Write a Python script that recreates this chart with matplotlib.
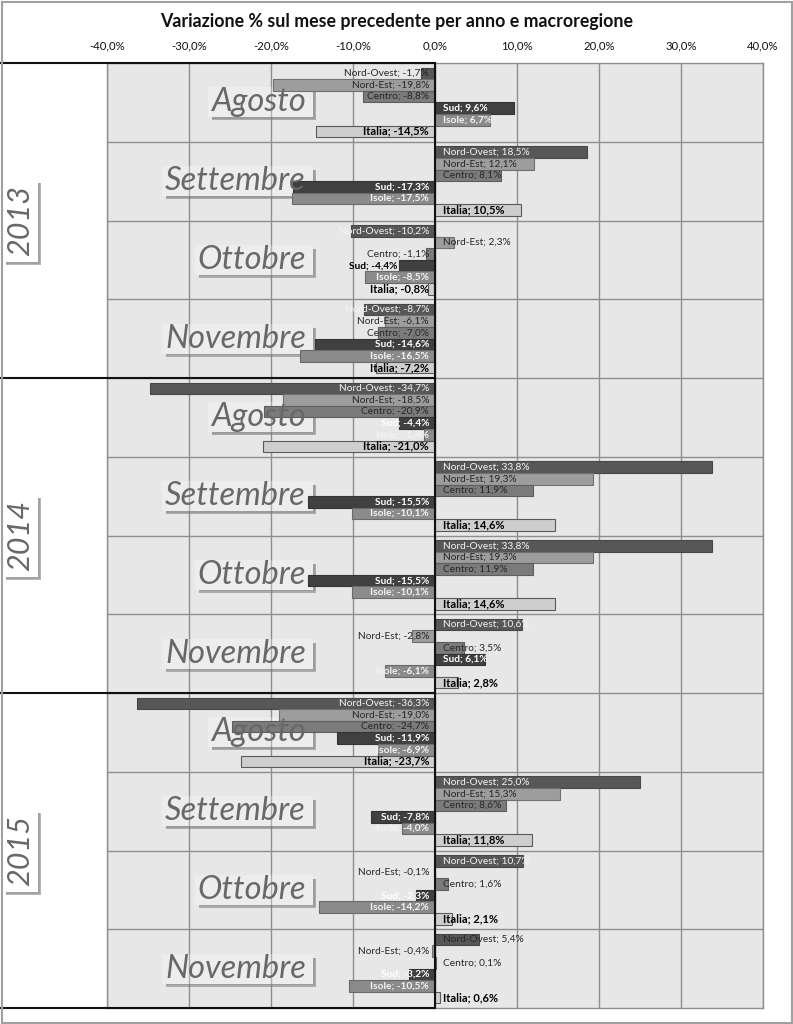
import matplotlib
matplotlib.use('Agg')
import matplotlib.pyplot as plt
from matplotlib.patches import Rectangle
from matplotlib.transforms import blended_transform_factory
from matplotlib.lines import Line2D

# ---------------- data ----------------
years = ['2013', '2014', '2015']
months = ['Agosto', 'Settembre', 'Ottobre', 'Novembre']
series_names = ['Nord-Ovest', 'Nord-Est', 'Centro', 'Sud', 'Isole', 'Italia']
nord_ovest = [-1.7, 18.5, -10.2, -8.7, -34.7, 33.8, 33.8, 10.6, -36.3, 25.0, 10.7, 5.4]
nord_est = [-19.8, 12.1, 2.3, -6.1, -18.5, 19.3, 19.3, -2.8, -19.0, 15.3, -0.1, -0.4]
centro = [-8.8, 8.1, -1.1, -7.0, -20.9, 11.9, 11.9, 3.5, -24.7, 8.6, 1.6, 0.1]
sud = [9.6, -17.3, -4.4, -14.6, -4.4, -15.5, -15.5, 6.1, -11.9, -7.8, -2.3, -3.2]
isole = [6.7, -17.5, -8.5, -16.5, -1.4, -10.1, -10.1, -6.1, -6.9, -4.0, -14.2, -10.5]
italia = [-14.5, 10.5, -0.8, -7.2, -21.0, 14.6, 14.6, 2.8, -23.7, 11.8, 2.1, 0.6]
xticks = [-40, -30, -20, -10, 0, 10, 20, 30, 40]
title = 'Variazione % sul mese precedente per anno e macroregione'

series_values = [nord_ovest, nord_est, centro, sud, isole, italia]

# ---------------- style ----------------
FONT = 'Lato'
plt.rcParams['font.family'] = [FONT, 'DejaVu Sans']
bar_face = ['#575757', '#9d9d9d', '#7b7b7b', '#404040', '#8b8b8b', '#cecece']
bar_edge = ['#484848', '#707070', '#5e5e5e', '#333333', '#6a6a6a', '#5a5a5a']
lab_color = ['#f4f4f4', '#262626', '#262626', '#ffffff', '#f4f4f4', '#000000']
lab_weight = ['normal', 'normal', 'normal', 'bold', 'bold', 'bold']
lab_size = [7.3, 7.3, 7.3, 7.3, 7.3, 8.0]

W_PX, H_PX = 793, 1024
fig = plt.figure(figsize=(W_PX / 100, H_PX / 100), dpi=100)
fig.patch.set_facecolor('white')

left_px, right_px, top_px, bot_px = 107, 763, 63, 1008
ax = fig.add_axes([left_px / W_PX, 1 - bot_px / H_PX,
                   (right_px - left_px) / W_PX, (bot_px - top_px) / H_PX])
ax.set_facecolor('#e7e7e7')

n_cat = len(years) * len(months)
ax.set_xlim(-40, 40)
ax.set_ylim(n_cat, 0)

# grid
for xv in xticks:
    ax.axvline(xv, color='#8e8e8e', lw=1.0, zorder=0.5)
for i in range(1, n_cat):
    ax.axhline(i, color='#8e8e8e', lw=1.0, zorder=0.5)
for sp in ax.spines.values():
    sp.set_color('#8e8e8e')
    sp.set_linewidth(1.0)

ax.xaxis.tick_top()
ax.set_xticks(xticks)
ax.set_xticklabels([f'{v:.1f}%'.replace('.', ',') for v in xticks], fontsize=8.2,
                   color='#111111')
ax.tick_params(axis='x', length=0, pad=8)
ax.set_yticks([])

# bars
h = 0.147
outside = {(2, 3)}                # label placed outside the bar end (Ottobre 2013, Sud)
dark_label = {(0, 0), (11, 0)}    # labels drawn in dark text
for k, (name, vals) in enumerate(zip(series_names, series_values)):
    ys = [i + 0.5 + (k - 2.5) * h for i in range(n_cat)]
    ax.barh(ys, vals, height=h, color=bar_face[k], edgecolor=bar_edge[k],
            linewidth=0.8, zorder=3)
    for i, (y, v) in enumerate(zip(ys, vals)):
        txt = f'{name}; {v:.1f}%'.replace('.', ',')
        col = '#262626' if (i, k) in dark_label else lab_color[k]
        if (i, k) in outside:
            ax.annotate(txt, (v, y), xytext=(-1, 0), textcoords='offset points',
                        ha='right', va='center', fontsize=lab_size[k],
                        color='#000000', fontweight='bold', zorder=7)
        elif v >= 0:
            ax.annotate(txt, (0, y), xytext=(5.5, 0), textcoords='offset points',
                        ha='left', va='center', fontsize=lab_size[k],
                        color=col, fontweight=lab_weight[k], zorder=7)
        else:
            ax.annotate(txt, (0, y), xytext=(-4.3, 0), textcoords='offset points',
                        ha='right', va='center', fontsize=lab_size[k],
                        color=col, fontweight=lab_weight[k], zorder=7)

# axis line at zero
ax.axvline(0, color='#111111', lw=1.5, zorder=5)

# year separator lines (extend into the left margin)
zero_fig = (left_px + (0 - (-40)) / 80 * (right_px - left_px)) / W_PX
btr = blended_transform_factory(fig.transFigure, ax.transData)
for j in range(len(years) + 1):
    yv = j * len(months)
    ax.add_line(Line2D([0, zero_fig], [yv, yv], transform=btr, color='#111111',
                       lw=1.5, zorder=5, clip_on=False))

# month labels
atr = blended_transform_factory(ax.transAxes, ax.transData)
month_texts = []
for i in range(n_cat):
    m = months[i % len(months)]
    t = ax.text((306 - left_px) / (right_px - left_px), i + 0.5, m, transform=atr,
                ha='right', va='center', fontsize=23.5, fontstyle='italic',
                color='#686868', zorder=6)
    month_texts.append(t)

# year labels
year_texts = []
for j, yr in enumerate(years):
    t = ax.text(20 / W_PX, (j + 0.5) * len(months), yr, transform=btr,
                ha='center', va='center', rotation=90, fontsize=22,
                fontstyle='italic', color='#686868', zorder=6, clip_on=False)
    year_texts.append(t)

fig.text(0.5, 1 - 22 / H_PX, title, ha='center', va='center', fontsize=12.8,
         fontweight='bold', color='#111111')

# boxes with shadows behind the labels
fig.canvas.draw()
r = fig.canvas.get_renderer()
W, H = fig.bbox.width, fig.bbox.height


def add_box(t, padl, padr, padb, padt):
    bb = t.get_window_extent(r)
    x0, y0 = bb.x0 - padl, bb.y0 - padb
    x1, y1 = bb.x1 + padr, bb.y1 + padt
    tr = fig.transFigure
    ax.add_patch(Rectangle((x0 / W, y0 / H), (x1 - x0) / W, (y1 - y0) / H,
                           transform=tr, fc='white', alpha=0.28, ec='none',
                           zorder=1.6, clip_on=False))
    s = 3
    for a in (0.55, 0.3):
        ax.add_patch(Rectangle((x1 / W, (y0 - s) / H), s / W, (y1 - y0 - 4 + s) / H,
                               transform=tr, fc='#7a7a7a', alpha=a, ec='none',
                               zorder=1.7, clip_on=False))
        ax.add_patch(Rectangle(((x0 + 4) / W, (y0 - s) / H), (x1 - x0 - 4) / W, s / H,
                               transform=tr, fc='#7a7a7a', alpha=a, ec='none',
                               zorder=1.7, clip_on=False))
        s = 1.5


for t in month_texts:
    add_box(t, 3, 7, 0, 0)
for t in year_texts:
    add_box(t, 4, 4, 6, 6)

# outer chart border
fig.add_artist(Rectangle((1.5 / W_PX, 1.5 / H_PX), 1 - 3 / W_PX, 1 - 3 / H_PX,
                         transform=fig.transFigure, fc='none', ec='#a0a0a0', lw=1.5))

fig.savefig('out.png', dpi=100)
